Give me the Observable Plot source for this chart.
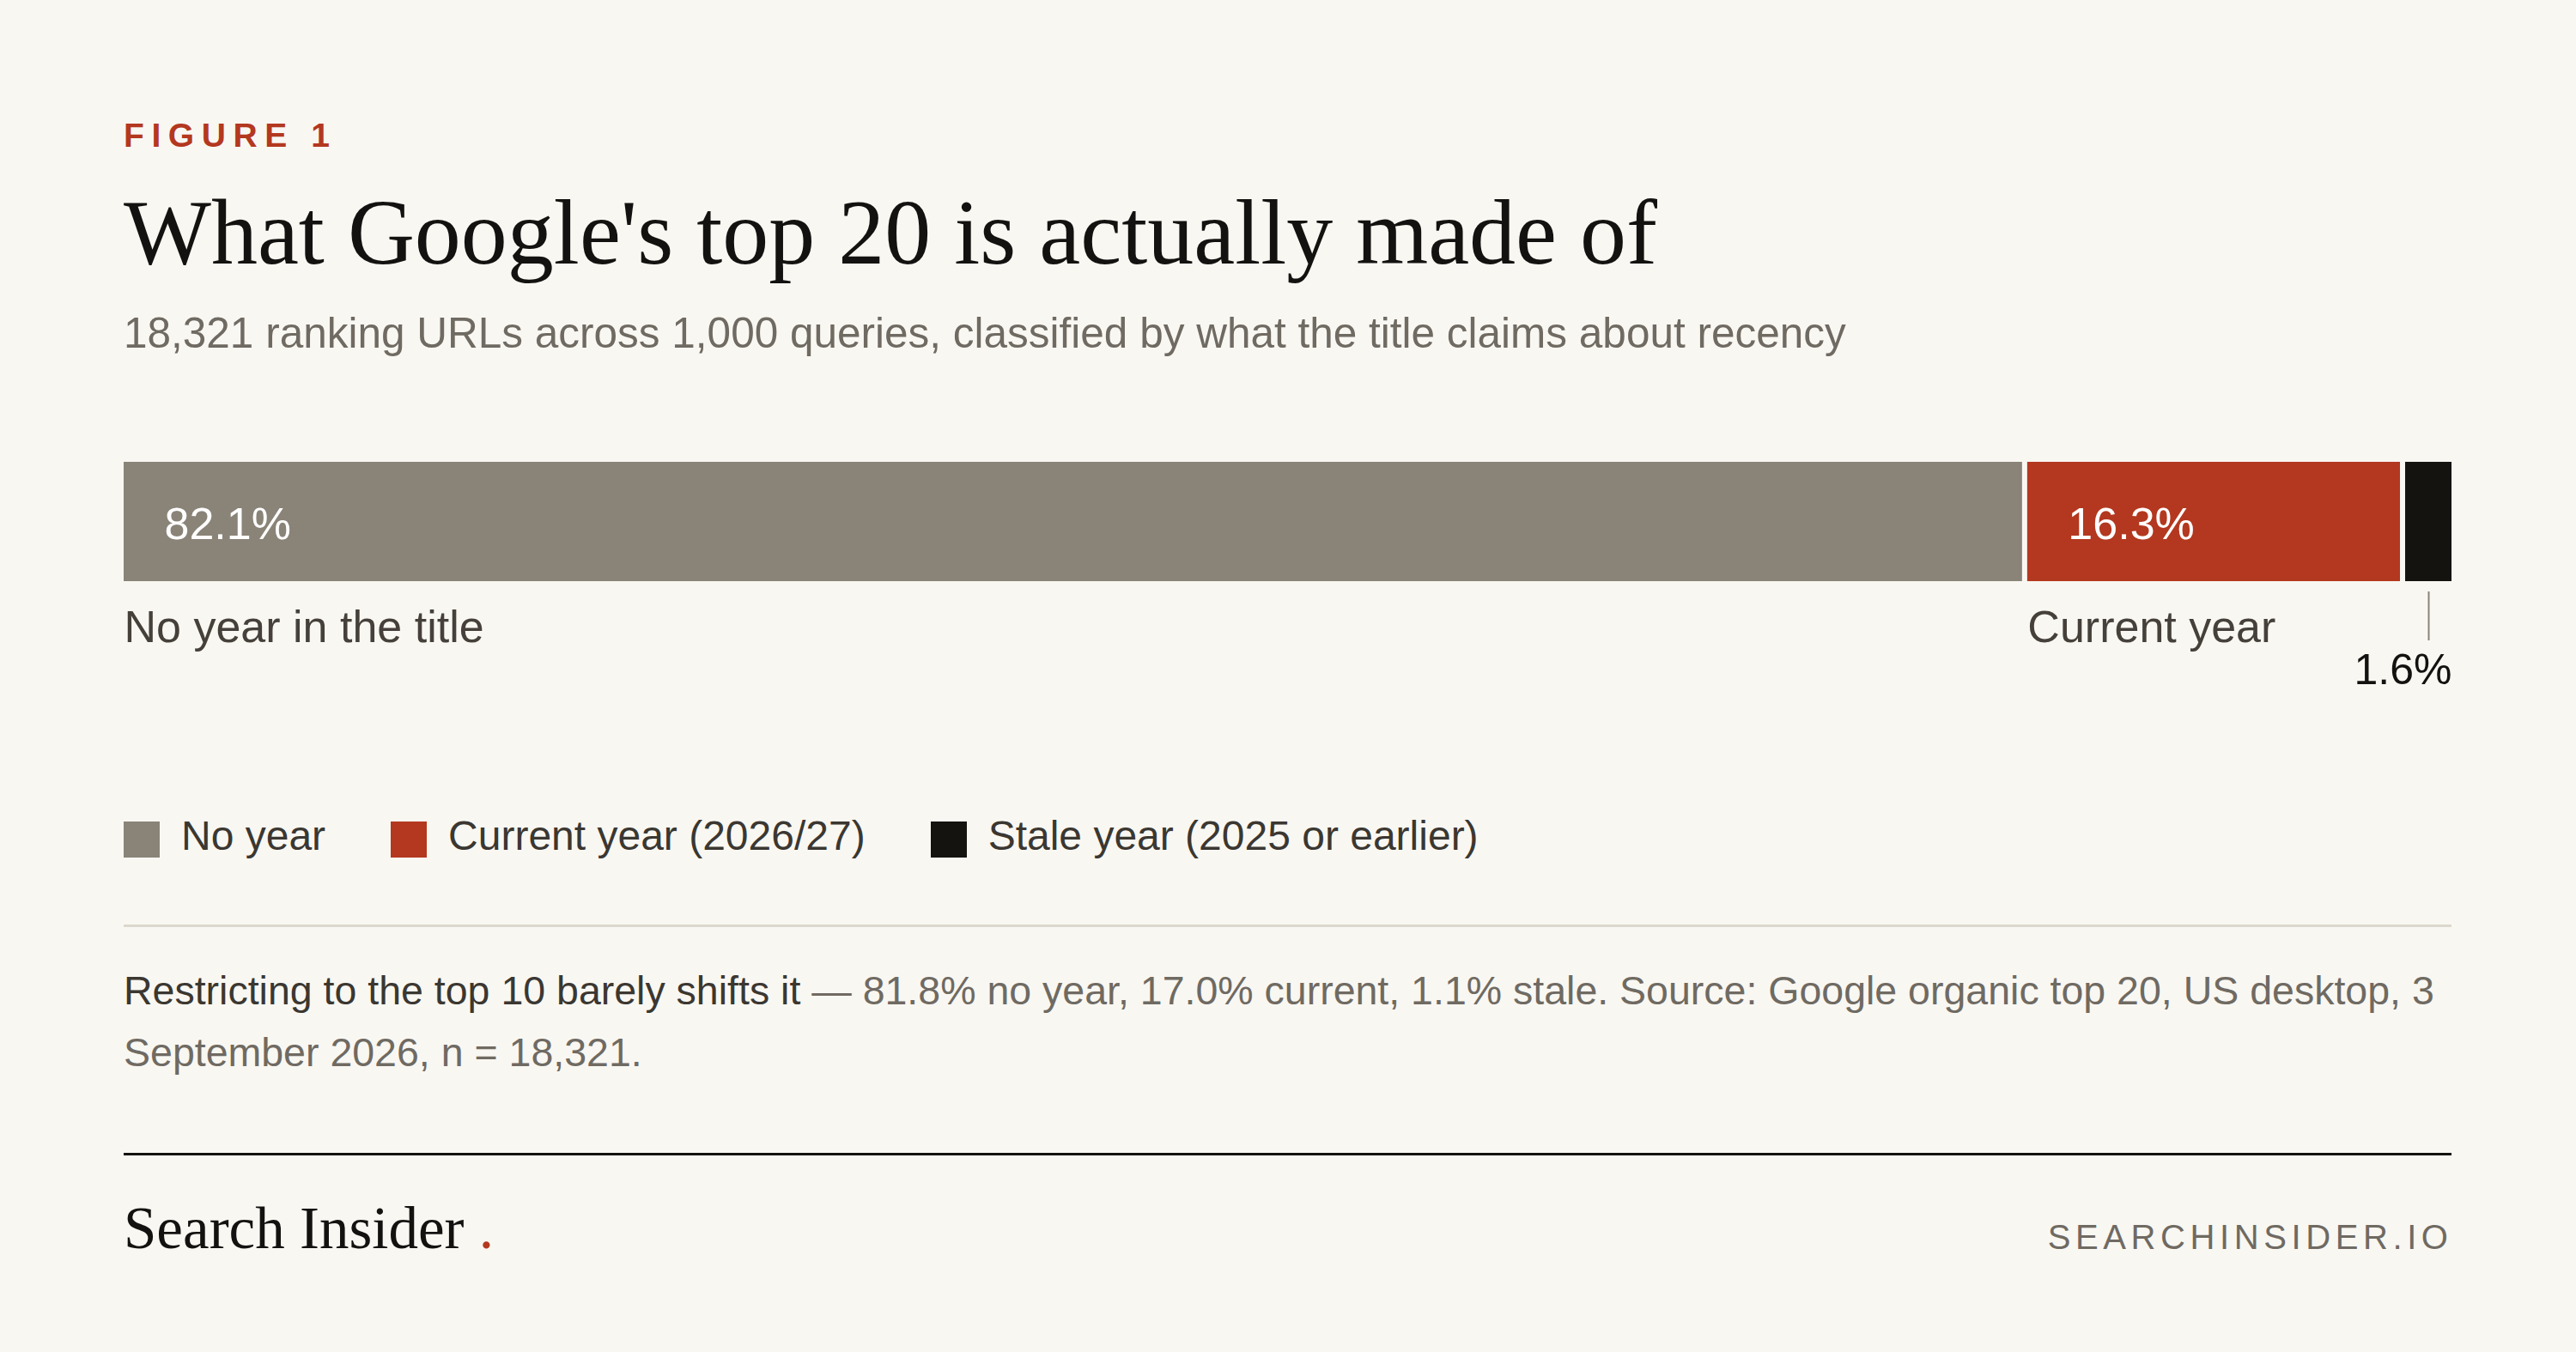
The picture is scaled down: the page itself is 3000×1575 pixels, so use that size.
<!DOCTYPE html>
<html>
<head>
<meta charset="utf-8">
<script src="https://cdn.jsdelivr.net/npm/d3@7"></script>
<script src="https://cdn.jsdelivr.net/npm/@observablehq/plot@0.6"></script>
<style>
  html, body { margin: 0; padding: 0; background: #f9f7f2; }
  body { width: 3000px; height: 1575px; position: relative; overflow: hidden; font-family: "Liberation Sans", Arial, sans-serif; }
  .abs { position: absolute; white-space: nowrap; line-height: 1; }
  #kicker { left: 144px; top: 138px; font-size: 39px; font-weight: 700; letter-spacing: 0.22em; color: #b3381f; }
  #title { left: 144px; top: 217px; font-family: "Liberation Serif", "Times New Roman", serif; font-size: 108px; color: #141210; }
  #subtitle { left: 144px; top: 363px; font-size: 49.5px; color: #6f6a62; }
  #chart { position: absolute; left: 144px; top: 538px; }
  #legend { position: absolute; left: 144px; top: 950px; height: 60px; display: flex; align-items: flex-start; }
  .item { display: flex; align-items: flex-start; margin-right: 76px; font-size: 48px; line-height: 1; color: #3b3731; white-space: nowrap; }
  .sw { width: 42px; height: 42px; margin-top: 7px; margin-right: 25px; }
  #divider { position: absolute; left: 144px; top: 1077px; width: 2711px; height: 3px; background: #ddd8ce; }
  #note { position: absolute; left: 144px; top: 1118px; width: 2711px; font-size: 46.5px; line-height: 72px; color: #6f6a62; }
  #note b { font-weight: 400; color: #3b3731; }
  #rule { position: absolute; left: 144px; top: 1343px; width: 2711px; height: 3px; background: #141210; }
  #brand { left: 144px; top: 1397px; font-family: "Liberation Serif", "Times New Roman", serif; font-size: 69px; color: #141210; }
  #brand span { color: #b3381f; }
  #site { right: 149px; top: 1421px; font-size: 40px; letter-spacing: 0.14em; margin-right: -0.14em; color: #6f6a62; }
</style>
</head>
<body>
<div id="kicker" class="abs">FIGURE 1</div>
<div id="title" class="abs">What Google's top 20 is actually made of</div>
<div id="subtitle" class="abs">18,321 ranking URLs across 1,000 queries, classified by what the title claims about recency</div>
<div id="chart"></div>
<div id="legend"></div>
<div id="divider"></div>
<div id="note"><b>Restricting to the top 10 barely shifts it</b> — 81.8% no year, 17.0% current, 1.1% stale. Source: Google organic top 20, US desktop, 3 September 2026, n = 18,321.</div>
<div id="rule"></div>
<div id="brand" class="abs">Search Insider <span>.</span></div>
<div id="site" class="abs">SEARCHINSIDER.IO</div>
<script>
// ---- data ----
const categories = ["No year", "Current year", "Stale year"];
const shares = [82.1, 16.3, 1.6];
const insideLabels = ["82.1%", "16.3%", null];
const belowLabels = ["No year in the title", "Current year", null];
const calloutLabels = [null, null, "1.6%"];
const legendLabels = ["No year", "Current year (2026/27)", "Stale year (2025 or earlier)"];
const colors = ["#8a8378", "#b3381f", "#15130f"];
const minVisibleShare = 2; // slim segments are drawn at least this wide

// stack in data units (share of 100, slim segments floored)
const shown = shares.map(s => Math.max(s, minVisibleShare));
const ends = d3.cumsum(shown);
const rows = categories.map((c, i) => ({
  category: c,
  share: shares[i],
  start: ends[i] - shown[i],
  end: ends[i],
  mid: ends[i] - shown[i] / 2,
  inside: insideLabels[i],
  below: belowLabels[i],
  callout: calloutLabels[i]
}));
const total = ends[ends.length - 1];
const last = rows.length - 1;

const chart = Plot.plot({
  width: 2711,
  height: 280,
  marginTop: 0,
  marginRight: 0,
  marginLeft: 0,
  marginBottom: 141,
  style: { fontFamily: "'Liberation Sans', Arial, sans-serif", background: "transparent", overflow: "visible" },
  x: { domain: [0, total], axis: null },
  color: { domain: categories, range: colors },
  marks: [
    // segments separated by a small gap; the final segment runs to the edge
    Plot.barX(rows.slice(0, last), { x1: "start", x2: "end", fill: "category", insetRight: 6 }),
    Plot.barX(rows.slice(last), { x1: "start", x2: "end", fill: "category" }),
    Plot.text(rows, { x: "start", text: "inside", frameAnchor: "middle", lineAnchor: "middle", textAnchor: "start", dx: 47, dy: 3, fill: "#ffffff", fontSize: 52 }),
    Plot.text(rows, { x: "start", text: "below", frameAnchor: "bottom", lineAnchor: "bottom", textAnchor: "start", dy: 70, fill: "#45413a", fontSize: 52 }),
    Plot.ruleX(rows.filter(d => d.callout), { x: "mid", stroke: "#8a8378", strokeWidth: 2, insetBottom: 82, dy: 151 }),
    Plot.text(rows, { x: "end", text: "callout", frameAnchor: "bottom", lineAnchor: "bottom", textAnchor: "end", dy: 119, fill: "#141210", fontSize: 50 })
  ]
});
document.getElementById("chart").appendChild(chart);

// legend
const legend = d3.select("#legend");
legendLabels.forEach((l, i) => {
  const item = legend.append("div").attr("class", "item");
  item.append("div").attr("class", "sw").style("background", colors[i]);
  item.append("div").text(l);
});
</script>
</body>
</html>
